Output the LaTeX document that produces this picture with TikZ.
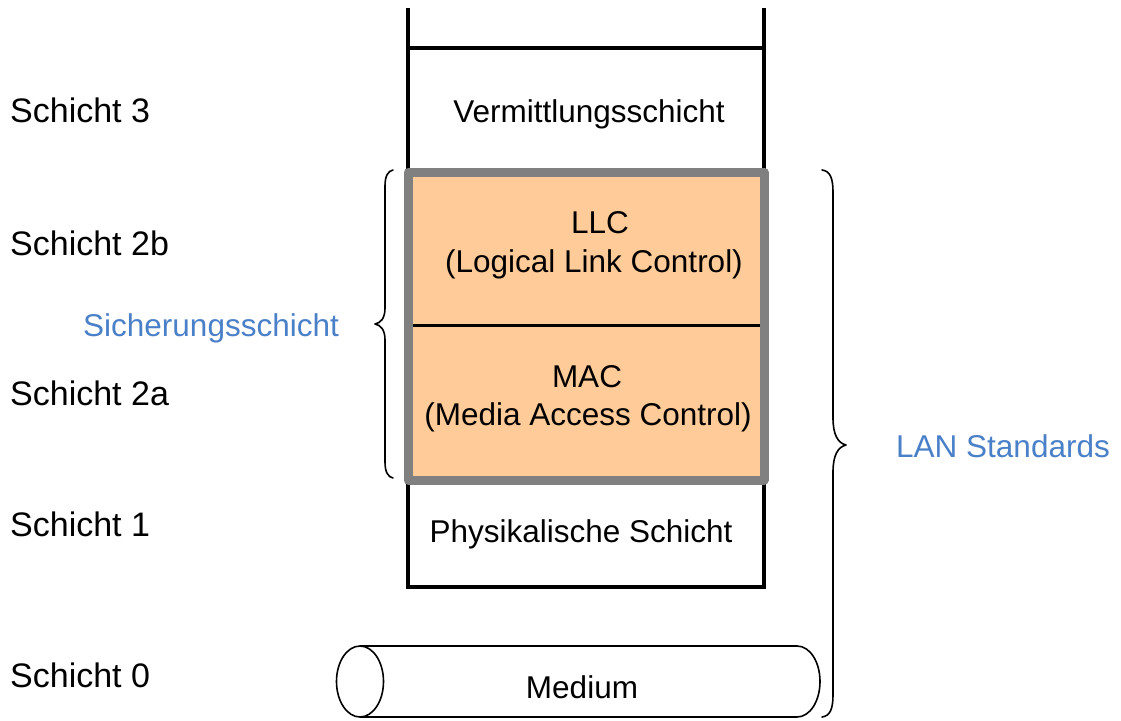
\documentclass[tikz,border=0pt]{standalone}
\usepackage{fontspec}
\setmainfont{Liberation Sans}
\definecolor{layerfill}{HTML}{FFCC99}
\definecolor{layerframe}{HTML}{808080}
\definecolor{notecolor}{HTML}{4A80C8}
\tikzset{
  side/.style={anchor=base west, inner sep=0pt, font=\fontsize{34}{40}\selectfont},
  inlayer/.style={anchor=base, inner sep=0pt, font=\fontsize{31.5}{38}\selectfont},
  note/.style={anchor=base west, inner sep=0pt, text=notecolor, font=\fontsize{31.5}{38}\selectfont},
  stackline/.style={line width=4pt, line join=miter},
  bracket/.style={line width=1.6pt, line join=round, line cap=round},
}
\begin{document}
\begin{tikzpicture}[x=1pt, y=-1pt]
\useasboundingbox (0,0) rectangle (1121,720);

% corners of the protocol stack
\coordinate (tl) at (408,8);
\coordinate (tr) at (764,8);
\coordinate (bl) at (408,587);
\coordinate (br) at (764,587);
\coordinate (capl) at (408,48);
\coordinate (capr) at (764,48);

% stack outline
\draw[stackline] (tl) -- (bl) -- (br) -- (tr);
\draw[stackline] (capl) -- (capr);

% data link layer block (LLC + MAC)
\coordinate (dl-nw) at (408,172);
\coordinate (dl-se) at (764,480);
\coordinate (split-w) at (412,325);
\coordinate (split-e) at (760,325);
\fill[layerfill] (dl-nw) rectangle (dl-se);
\draw[line width=3pt] (split-w) -- (split-e);
\draw[layerframe, line width=9pt, line join=round] (dl-nw) rectangle (dl-se);

% layer texts
\node[inlayer] (net) at (589,122) {Vermittlungsschicht};
\node[inlayer] (llc) at (600,233) {LLC};
\node[inlayer] (llcsub) at (594,272) {(Logical Link Control)};
\node[inlayer] (mac) at (587,387) {MAC};
\node[inlayer] (macsub) at (588,425) {(Media Access Control)};
\node[inlayer] (phy) at (581,542) {Physikalische Schicht};

% transmission medium (cylinder lying on its side)
\draw[line width=1.6pt] (360,646) -- (797,646)
  .. controls (810,646) and (820,662) .. (820,681.5)
  .. controls (820,701) and (810,717) .. (797,717) -- (360,717);
\draw[line width=1.6pt, fill=white] (360,681.5) ellipse (23.5 and 35.5);
\node[inlayer] (medium) at (582,698) {Medium};

% layer numbers
\node[side] (s3) at (10,122) {Schicht 3};
\node[side] (s2b) at (10,255) {Schicht 2b};
\node[side] (s2a) at (10,405) {Schicht 2a};
\node[side] (s1) at (10,536) {Schicht 1};
\node[side] (s0) at (10,687) {Schicht 0};

% brace around LLC and MAC
\draw[bracket] (393,170) .. controls (388,171) and (385,176) .. (385,186)
  -- (385,308) .. controls (385,318) and (381,323) .. (375,324)
  .. controls (381,325) and (385,330) .. (385,340)
  -- (385,462) .. controls (385,472) and (388,477) .. (393,478);
\node[note] (dll) at (83,336) {Sicherungsschicht};

% brace around the LAN standards part
\draw[bracket] (822,170) .. controls (830,171) and (833,178) .. (833,192)
  -- (833,418) .. controls (833,435) and (838,443) .. (846,445)
  .. controls (838,447) and (833,455) .. (833,472)
  -- (833,695) .. controls (833,709) and (830,716) .. (822,717);
\node[note] (lan) at (896,457) {LAN Standards};
\end{tikzpicture}
\end{document}
